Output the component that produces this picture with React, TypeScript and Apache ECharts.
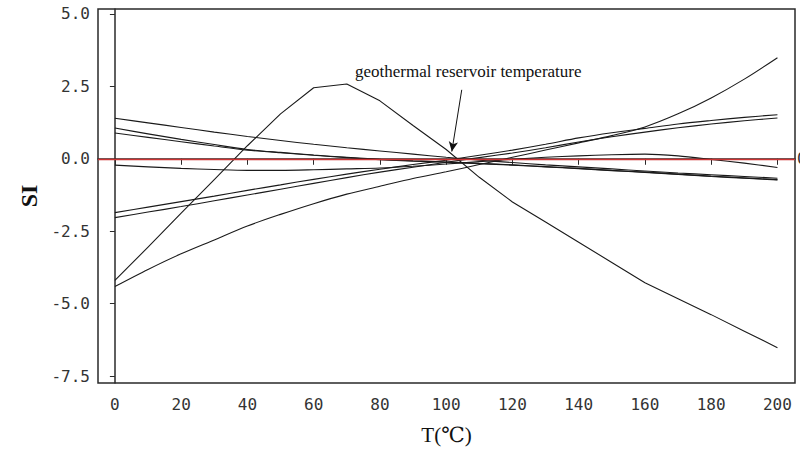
import React, { useEffect, useRef } from "react";
import * as echarts from "echarts";

// Temperature grid (°C) shared by all saturation-index curves
const temps = [0, 10, 20, 30, 40, 50, 60, 70, 80, 90, 100, 110, 120, 130, 140, 150, 160, 170, 180, 190, 200];

// Saturation index curves
const siPeak = [-4.2, -3.05, -1.88, -0.72, 0.45, 1.55, 2.45, 2.58, 2.0, 1.15, 0.32, -0.64, -1.49, -2.18, -2.88, -3.58, -4.28, -4.83, -5.38, -5.95, -6.52];
const siRising = [-4.41, -3.82, -3.28, -2.8, -2.32, -1.92, -1.55, -1.22, -0.95, -0.68, -0.45, -0.2, 0.05, 0.3, 0.55, 0.8, 1.1, 1.55, 2.1, 2.75, 3.49];
const siUpperA = [-1.86, -1.67, -1.48, -1.29, -1.09, -0.9, -0.71, -0.53, -0.36, -0.2, -0.05, 0.12, 0.3, 0.5, 0.72, 0.9, 1.05, 1.2, 1.32, 1.43, 1.52];
const siUpperB = [-2.03, -1.84, -1.65, -1.45, -1.25, -1.05, -0.85, -0.65, -0.46, -0.29, -0.12, 0.04, 0.2, 0.38, 0.58, 0.76, 0.92, 1.07, 1.2, 1.31, 1.41];
const siFallA = [1.4, 1.24, 1.08, 0.92, 0.77, 0.63, 0.5, 0.38, 0.27, 0.16, 0.05, -0.05, -0.13, -0.21, -0.28, -0.35, -0.42, -0.49, -0.55, -0.61, -0.67];
const siFallB = [1.06, 0.86, 0.67, 0.49, 0.32, 0.22, 0.13, 0.05, -0.02, -0.07, -0.11, -0.16, -0.21, -0.27, -0.33, -0.4, -0.46, -0.53, -0.6, -0.66, -0.72];
const siFallC = [0.89, 0.74, 0.59, 0.44, 0.3, 0.21, 0.12, 0.04, -0.03, -0.08, -0.12, -0.17, -0.22, -0.28, -0.34, -0.41, -0.47, -0.54, -0.61, -0.67, -0.73];
const siFlat = [-0.22, -0.28, -0.33, -0.37, -0.4, -0.4, -0.38, -0.35, -0.32, -0.26, -0.18, -0.1, -0.02, 0.05, 0.1, 0.14, 0.16, 0.1, -0.02, -0.15, -0.3];

// Tick labels
const xTicks = [0, 20, 40, 60, 80, 100, 120, 140, 160, 180, 200];
const yTicks = [-7.5, -5.0, -2.5, 0.0, 2.5, 5.0];

// Annotation pointing at the convergence of the curves
const annotationText = "geothermal reservoir temperature";
const arrowFrom = [104.7, 2.38];
const arrowTo = [101.7, 0.25];

const curves = [
  { values: siPeak, smooth: false },
  { values: siRising, smooth: 0.3 },
  { values: siUpperA, smooth: 0.3 },
  { values: siUpperB, smooth: 0.3 },
  { values: siFallA, smooth: 0.3 },
  { values: siFallB, smooth: 0.3 },
  { values: siFallC, smooth: 0.3 },
  { values: siFlat, smooth: 0.3 },
];

const monoFont = "'DejaVu Sans Mono', monospace";
const serifFont = "'Liberation Serif', 'DejaVu Serif', 'Noto Sans CJK SC', serif";

export default function App() {
  const ref = useRef<HTMLDivElement>(null);

  useEffect(() => {
    if (!ref.current) return;
    const chart = echarts.init(ref.current, null, { renderer: "svg" });

    const lineSeries = curves.map((c) => ({
      type: "line",
      data: temps.map((t, i) => [t, c.values[i]]),
      smooth: c.smooth,
      showSymbol: false,
      symbol: "none",
      lineStyle: { color: "#1a1a1a", width: 1.1 },
      z: 3,
    }));

    const option = {
      animation: false,
      backgroundColor: "#ffffff",
      grid: {
        left: 98,
        right: 5,
        top: 9,
        bottom: 66,
        show: true,
        borderColor: "#2a2a2a",
        borderWidth: 1.5,
        backgroundColor: "transparent",
      },
      xAxis: {
        type: "value",
        min: -5.1,
        max: 205.3,
        name: "T(℃)",
        nameLocation: "middle",
        nameGap: 41,
        nameTextStyle: { fontFamily: serifFont, fontSize: 21, color: "#111" },
        axisLine: { show: true, lineStyle: { color: "#2a2a2a", width: 1.5 } },
        axisTick: { show: true, length: 6, customValues: xTicks, lineStyle: { color: "#2a2a2a" } },
        axisLabel: {
          customValues: xTicks,
          margin: 13,
          fontFamily: monoFont,
          fontSize: 16,
          color: "#333",
        },
        splitLine: { show: false },
      },
      yAxis: {
        type: "value",
        min: -7.74,
        max: 5.17,
        name: "SI",
        nameLocation: "middle",
        nameGap: 57,
        nameTextStyle: { fontFamily: serifFont, fontSize: 24, fontWeight: "bold", color: "#111" },
        axisLine: { show: true, lineStyle: { color: "#2a2a2a", width: 1.5 } },
        axisTick: { show: true, length: 5, customValues: yTicks, lineStyle: { color: "#2a2a2a" } },
        axisLabel: {
          customValues: yTicks,
          margin: 8,
          fontFamily: monoFont,
          fontSize: 16,
          color: "#333",
          formatter: (v: number) => v.toFixed(1),
        },
        splitLine: { show: false },
      },
      graphic: [
        {
          type: "text",
          left: 355,
          top: 63,
          style: {
            text: annotationText,
            font: `17px ${serifFont}`,
            fill: "#111",
          },
        },
      ],
      series: [
        ...lineSeries,
        {
          type: "line",
          data: [],
          silent: true,
          markLine: {
            silent: true,
            symbol: "none",
            lineStyle: { color: "#cc3333", width: 1.3, type: "solid" },
            label: {
              show: true,
              position: "end",
              distance: 2,
              formatter: "0",
              fontFamily: monoFont,
              fontSize: 16,
              color: "#333",
            },
            data: [{ yAxis: 0 }],
          },
          z: 2,
        },
        {
          type: "line",
          data: [],
          silent: true,
          markLine: {
            silent: true,
            symbol: ["none", "arrow"],
            symbolSize: [7, 10],
            lineStyle: { color: "#111", width: 1, type: "solid" },
            label: { show: false },
            data: [[{ coord: arrowFrom }, { coord: arrowTo }]],
          },
          z: 4,
        },
      ],
    };

    chart.setOption(option as any);
    return () => chart.dispose();
  }, []);

  return <div ref={ref} style={{ width: 800, height: 450, position: "absolute", left: 0, top: 0 }} />;
}
